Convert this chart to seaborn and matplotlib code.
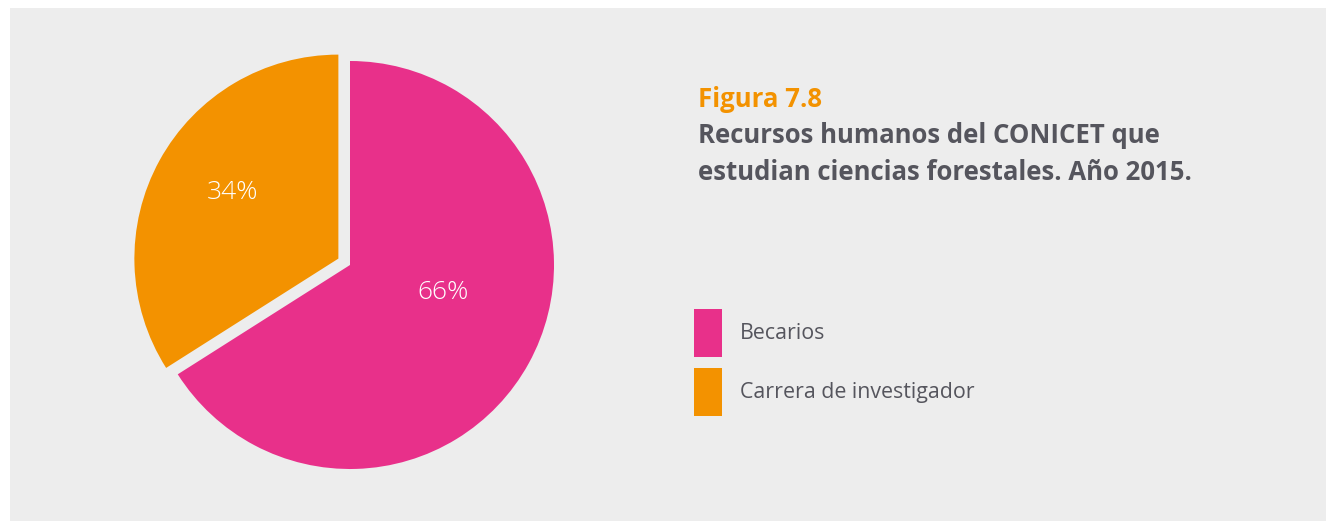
import matplotlib
matplotlib.use("Agg")
import matplotlib.pyplot as plt
from matplotlib.patches import Rectangle
import seaborn as sns

# Data
categorias = ["Becarios", "Carrera de investigador"]
porcentajes = [66, 34]
colores = ["#E8308A", "#F39200"]
separacion = [0.0, 0.065]

titulo_fig = "Figura 7.8"
titulo_lineas = ["Recursos humanos del CONICET que",
                 "estudian ciencias forestales. Año 2015."]

sns.set_theme(style="white")
plt.rcParams["font.family"] = ["Open Sans", "DejaVu Sans"]

FONDO = "#EDEDED"
TEXTO = "#55555D"

W, H = 1326, 521
fig = plt.figure(figsize=(W / 100, H / 100), dpi=100)
fig.patch.set_facecolor("white")

# Gray panel behind everything
fig.patches.append(Rectangle((10 / W, 0), 1 - 10 / W, (H - 8) / H,
                             transform=fig.transFigure, facecolor=FONDO,
                             edgecolor="none", zorder=-10))

# Pie axes: center at (350, 265) px, radius 204 px
r = 204
cx, cy = 350, H - 265
lim = 1.2
side = 2 * lim * r
ax = fig.add_axes([(cx - side / 2) / W, (cy - side / 2) / H, side / W, side / H])
ax.set_facecolor("none")
ax.set_zorder(5)

wedges, _ = ax.pie(porcentajes, colors=colores, startangle=90, counterclock=False,
                   explode=separacion, radius=1.0,
                   wedgeprops=dict(linewidth=0, antialiased=True))
ax.set_xlim(-lim, lim)
ax.set_ylim(-lim, lim)
ax.set_aspect("equal")
ax.axis("off")

# Percentage labels
pos_etiquetas = [(0.456, -0.137), (-0.574, 0.353)]
for (x, y), v in zip(pos_etiquetas, porcentajes):
    ax.text(x, y, f"{v}%", color="white", fontsize=19, fontweight="light",
            ha="center", va="center")

# Titles (one line each, placed by baseline)
fig.text(698 / W, 1 - 107 / H, titulo_fig, color="#F39200", fontsize=18.5,
         fontweight="bold", ha="left", va="baseline")
for linea, base in zip(titulo_lineas, [143, 180]):
    fig.text(698 / W, 1 - base / H, linea, color=TEXTO, fontsize=18.5,
             fontweight="bold", ha="left", va="baseline")

# Legend
fs_leg = 15.4
leg = fig.legend(wedges, categorias, loc="upper left",
                 bbox_to_anchor=(694 / W, 1 - 309 / H),
                 bbox_transform=fig.transFigure, frameon=False,
                 fontsize=fs_leg, handlelength=1.31, handleheight=3.07,
                 handletextpad=0.85, labelspacing=0.51, borderpad=0,
                 borderaxespad=0)
for t in leg.get_texts():
    t.set_color(TEXTO)

fig.savefig("out.png", dpi=100, facecolor=fig.get_facecolor())
